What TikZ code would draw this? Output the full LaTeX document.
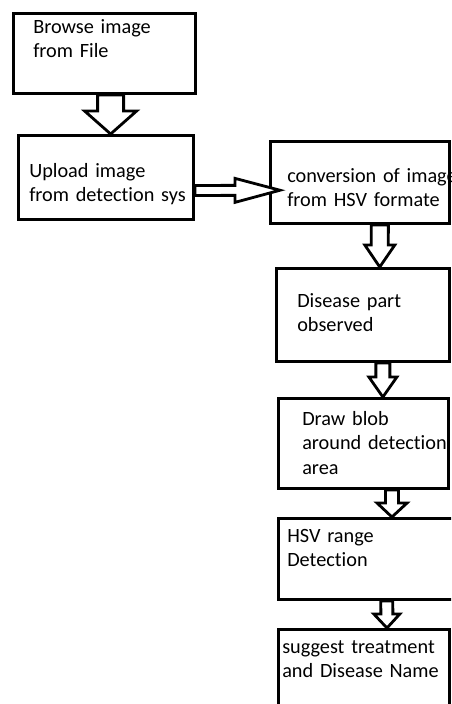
\documentclass[tikz,border=0pt]{standalone}
\usepackage{fontspec}
\setmainfont{Carlito}[RawFeature={-liga}]
\usetikzlibrary{calc}

\begin{document}
\begin{tikzpicture}[x=0.75pt,y=0.75pt,yscale=-1,xscale=1,
  box/.style={draw, line width=2.25pt, anchor=north west, inner sep=0pt},
  txt/.style={anchor=base west, inner sep=0pt, text width=160pt, align=left, font=\fontsize{15.2}{18.4}\selectfont},
  blockarrow/.style n args={3}{draw, line width=2.1pt, fill=white, line join=miter, to path={
      ($(\tikztostart)!#1!90:(\tikztotarget)$)
      -- ($(\tikztotarget)!#3!(\tikztostart)!#1!90:(\tikztotarget)$)
      -- ($(\tikztotarget)!#3!(\tikztostart)!#2!90:(\tikztotarget)$)
      -- (\tikztotarget)
      -- ($(\tikztotarget)!#3!(\tikztostart)!#2!-90:(\tikztotarget)$)
      -- ($(\tikztotarget)!#3!(\tikztostart)!#1!-90:(\tikztotarget)$)
      -- ($(\tikztostart)!#1!-90:(\tikztotarget)$) -- cycle}}
]
\path[use as bounding box, clip] (0,0) rectangle (451,704);

%Shape: Rectangle
\node[box, minimum width=136.5pt, minimum height=60pt] (b1) at (12,12) {};
\node[box, minimum width=131.25pt, minimum height=63pt] (b2) at (17,134) {};
\node[box, minimum width=134.25pt, minimum height=61.5pt] (b3) at (269,140) {};
\node[box, minimum width=129.75pt, minimum height=69.75pt] (b4) at (275,267) {};
\node[box, minimum width=127.5pt, minimum height=67.5pt] (b5) at (277,397) {};
\node[box, minimum width=135pt, minimum height=60.75pt] (b6) at (277,517) {};
\node[box, minimum width=128.25pt, minimum height=61.5pt] (b7) at (277,628) {};

% Text Node
\node[txt] (t1) at (33,33) {Browse image\\from File};
\node[txt] (t2) at (29,177) {Upload image\\from detection sys};
\begin{scope}
  \clip (b3.north west) rectangle (b3.south east);
  \node[txt] (t3) at (287,182) {conversion of image\\from HSV formate};
\end{scope}
\node[txt] (t4) at (297,307) {Disease part\\observed};
\node[txt] (t5) at (302,425) {Draw blob\\around detection\\area};
\node[txt] (t6) at (287,542) {HSV range\\Detection};
\node[txt] (t7) at (282,653) {suggest treatment\\and Disease Name};

%Block Arrows
\draw[blockarrow={9.75pt}{19.5pt}{17.25pt}] ($(b1.south west)!.533!(b1.south east)$) to ($(b2.north west)!.526!(b2.north east)$);
\draw[blockarrow={3.75pt}{9pt}{33.75pt}] ($(b2.north east)!.649!(b2.south east)$) to ($(b3.north west)!.591!(b3.south west)+(11,0)$);
\draw[blockarrow={6.4pt}{11.25pt}{16.5pt}] ($(b3.south west)!.609!(b3.south east)$) to ($(b4.north west)!.595!(b4.north east)$);
\draw[blockarrow={5.25pt}{10.5pt}{15pt}] ($(b4.south west)!.613!(b4.south east)$) to ($(b5.north west)!.612!(b5.north east)$);
\draw[blockarrow={4.9pt}{11.25pt}{10.5pt}] ($(b5.south west)!.665!(b5.south east)$) to ($(b6.north west)!.628!(b6.north east)$);
\draw[blockarrow={4.5pt}{9.75pt}{10.5pt}] ($(b6.south west)!.6!(b6.south east)$) to ($(b7.north west)!.632!(b7.north east)$);
\end{tikzpicture}
\end{document}
